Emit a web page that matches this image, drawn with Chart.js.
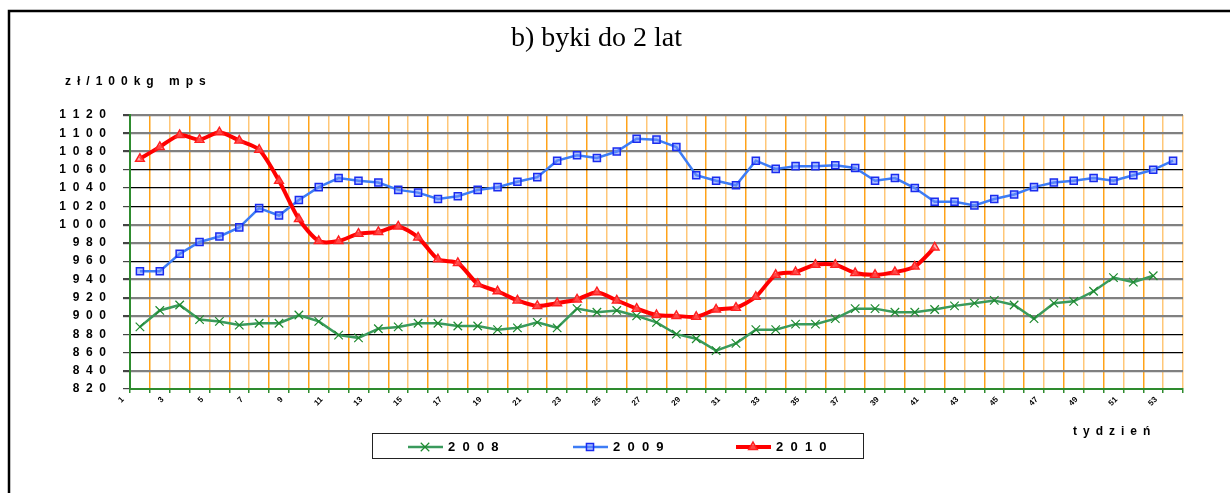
<!DOCTYPE html>
<html>
<head>
<meta charset="utf-8">
<script src="https://cdn.jsdelivr.net/npm/chart.js@4.4.1/dist/chart.umd.min.js"></script>
<style>
  body { margin: 0; background: #fff; }
  canvas { display: block; }
</style>
</head>
<body>
<canvas id="myChart" width="1230" height="493"></canvas>
<script>
// week numbers on the x axis
const weeks = [];
for (let w = 1; w <= 53; w++) weeks.push(String(w));

// prices, zł/100kg mps
const prices2008 = [888, 906, 912, 896, 894, 890, 892, 892, 901, 894,
                    879, 876, 886, 888, 892, 892, 889, 889, 885, 887,
                    893, 887, 908, 904, 906, 900, 893, 880, 875, 862,
                    870, 885, 885, 891, 891, 897, 908, 908, 904, 904,
                    907, 911, 914, 917, 912, 897, 914, 916, 927, 942,
                    937, 944];
const prices2009 = [949, 949, 968, 981, 987, 997, 1018, 1010, 1027, 1041,
                    1051, 1048, 1046, 1038, 1035, 1028, 1031, 1038, 1041, 1047,
                    1052, 1070, 1076, 1073, 1080, 1094, 1093, 1085, 1054, 1048,
                    1043, 1070, 1061, 1064, 1064, 1065, 1062, 1048, 1051, 1040,
                    1025, 1025, 1021, 1028, 1033, 1041, 1046, 1048, 1051, 1048,
                    1054, 1060, 1070];
const prices2010 = [1072, 1085, 1098, 1093, 1101, 1092, 1082, 1048, 1006, 982,
                    982, 990, 992, 998, 986, 962, 958, 935, 927, 917,
                    911, 914, 918, 926, 917, 908, 901, 900, 899, 907,
                    909, 921, 945, 948, 956, 956, 947, 945, 948, 954,
                    975];

const titleText = 'b) byki do 2 lat';
const yTitle = 'zł/100kg mps';
const xTitle = 'tydzień';

// grey (thick) or black (thin) horizontal lines, as in the original
const greyLines = [1120, 1100, 1080, 1000, 980, 940, 920, 900, 840];

const sansFont = 'Arial, "Liberation Sans", sans-serif';

function spaced(s, sep) {
    return String(s).split('').join(sep || ' ');
}

// frame, axis titles and the boxed legend
const extrasPlugin = {
    id: 'extras',
    afterDraw(chart) {
        const ctx = chart.ctx;
        ctx.save();
        // frame
        ctx.strokeStyle = '#000';
        ctx.lineWidth = 2.5;
        ctx.beginPath();
        ctx.moveTo(9, 493);
        ctx.lineTo(9, 11);
        ctx.lineTo(1230, 11);
        ctx.stroke();

        // axis titles
        ctx.fillStyle = '#000';
        ctx.textBaseline = 'middle';
        ctx.textAlign = 'left';
        ctx.font = 'bold 12px ' + sansFont;
        ctx.fillText(spaced(yTitle, '\u2002').replace('g\u2002m', 'g\u2002\u2002\u2002m'), 65, 82);
        ctx.fillText(spaced(xTitle, '\u2002'), 1073, 432);

        // legend box
        ctx.strokeStyle = '#222';
        ctx.lineWidth = 1;
        ctx.strokeRect(372.5, 433.5, 491, 25);

        const order = [0, 1, 2];
        const starts = [408, 573, 736];
        const ly = 447;
        order.forEach((di, i) => {
            const ds = chart.data.datasets[di];
            const x0 = starts[i];
            ctx.strokeStyle = ds.borderColor;
            ctx.lineWidth = ds.borderWidth;
            ctx.beginPath();
            ctx.moveTo(x0, ly);
            ctx.lineTo(x0 + 35, ly);
            ctx.stroke();
            ctx.fillStyle = ds.pointBackgroundColor;
            ctx.strokeStyle = ds.pointBorderColor;
            ctx.lineWidth = ds.pointBorderWidth;
            Chart.helpers.drawPoint(ctx, {
                pointStyle: ds.pointStyle,
                radius: ds.pointRadius,
                rotation: 0,
                borderWidth: ds.pointBorderWidth
            }, x0 + 17, ly);
            ctx.fillStyle = '#000';
            ctx.font = 'bold 13px ' + sansFont;
            ctx.textAlign = 'left';
            ctx.fillText(spaced(ds.label, '  '), x0 + 40, ly);
        });
        ctx.restore();
    }
};

new Chart(document.getElementById('myChart').getContext('2d'), {
    type: 'line',
    data: {
        labels: weeks,
        datasets: [
            {
                label: '2008',
                data: prices2008,
                borderColor: '#3a9a5c',
                borderWidth: 2.5,
                pointStyle: 'crossRot',
                pointRadius: 6,
                pointBorderColor: '#1e8a2e',
                pointBackgroundColor: '#1e8a2e',
                pointBorderWidth: 1.2,
                tension: 0,
                order: 2
            },
            {
                label: '2009',
                data: prices2009,
                borderColor: '#3d7cf5',
                borderWidth: 2.5,
                pointStyle: 'rect',
                pointRadius: 5,
                pointBorderColor: '#1a2cf0',
                pointBackgroundColor: 'rgba(110,140,255,0.55)',
                pointBorderWidth: 1.5,
                tension: 0,
                order: 1
            },
            {
                label: '2010',
                data: prices2010,
                borderColor: '#ff0000',
                borderWidth: 4,
                pointStyle: 'triangle',
                pointRadius: 5,
                pointBorderColor: '#ff2020',
                pointBackgroundColor: 'rgba(255,120,120,0.6)',
                pointBorderWidth: 1.5,
                tension: 0.25,
                order: 0
            }
        ]
    },
    options: {
        responsive: false,
        animation: false,
        layout: { padding: { left: 10, right: 47, top: 0, bottom: 0 } },
        scales: {
            x: {
                offset: true,
                afterFit: scale => { scale.height = 104; },
                border: { color: '#2e8b2e', width: 2 },
                grid: {
                    offset: true,
                    color: c => (c.index % 2 ? '#ffa31a' : '#ffc778'),
                    lineWidth: 1.5,
                    tickLength: 4,
                    tickColor: '#2e8b2e'
                },
                ticks: {
                    autoSkip: false,
                    minRotation: 45,
                    maxRotation: 45,
                    labelOffset: -17,
                    padding: 2,
                    color: '#000',
                    font: { family: sansFont, size: 8, weight: 'bold' },
                    callback: function (v, i) { return i % 2 === 0 ? weeks[i] : ''; }
                }
            },
            y: {
                min: 820,
                max: 1120,
                afterFit: scale => { scale.width = 120; },
                border: { color: '#2e8b2e', width: 2 },
                grid: {
                    color: c => (greyLines.includes(c.tick.value) ? '#808080' : '#000'),
                    lineWidth: c => (greyLines.includes(c.tick.value) ? 2.2 : 1.2),
                    tickLength: 7,
                    tickColor: '#444'
                },
                ticks: {
                    stepSize: 20,
                    padding: 17,
                    color: '#000',
                    font: { family: sansFont, size: 12, weight: 'bold' },
                    callback: v => spaced(v, '  ')
                }
            }
        },
        plugins: {
            legend: { display: false },
            tooltip: { enabled: false },
            title: {
                display: true,
                text: titleText,
                color: '#000',
                font: { family: '"Liberation Serif", "Times New Roman", serif', size: 28, weight: 'normal', lineHeight: 1.2 },
                padding: { top: 22, bottom: 59.4 }
            }
        }
    },
    plugins: [extrasPlugin]
});
</script>
</body>
</html>
